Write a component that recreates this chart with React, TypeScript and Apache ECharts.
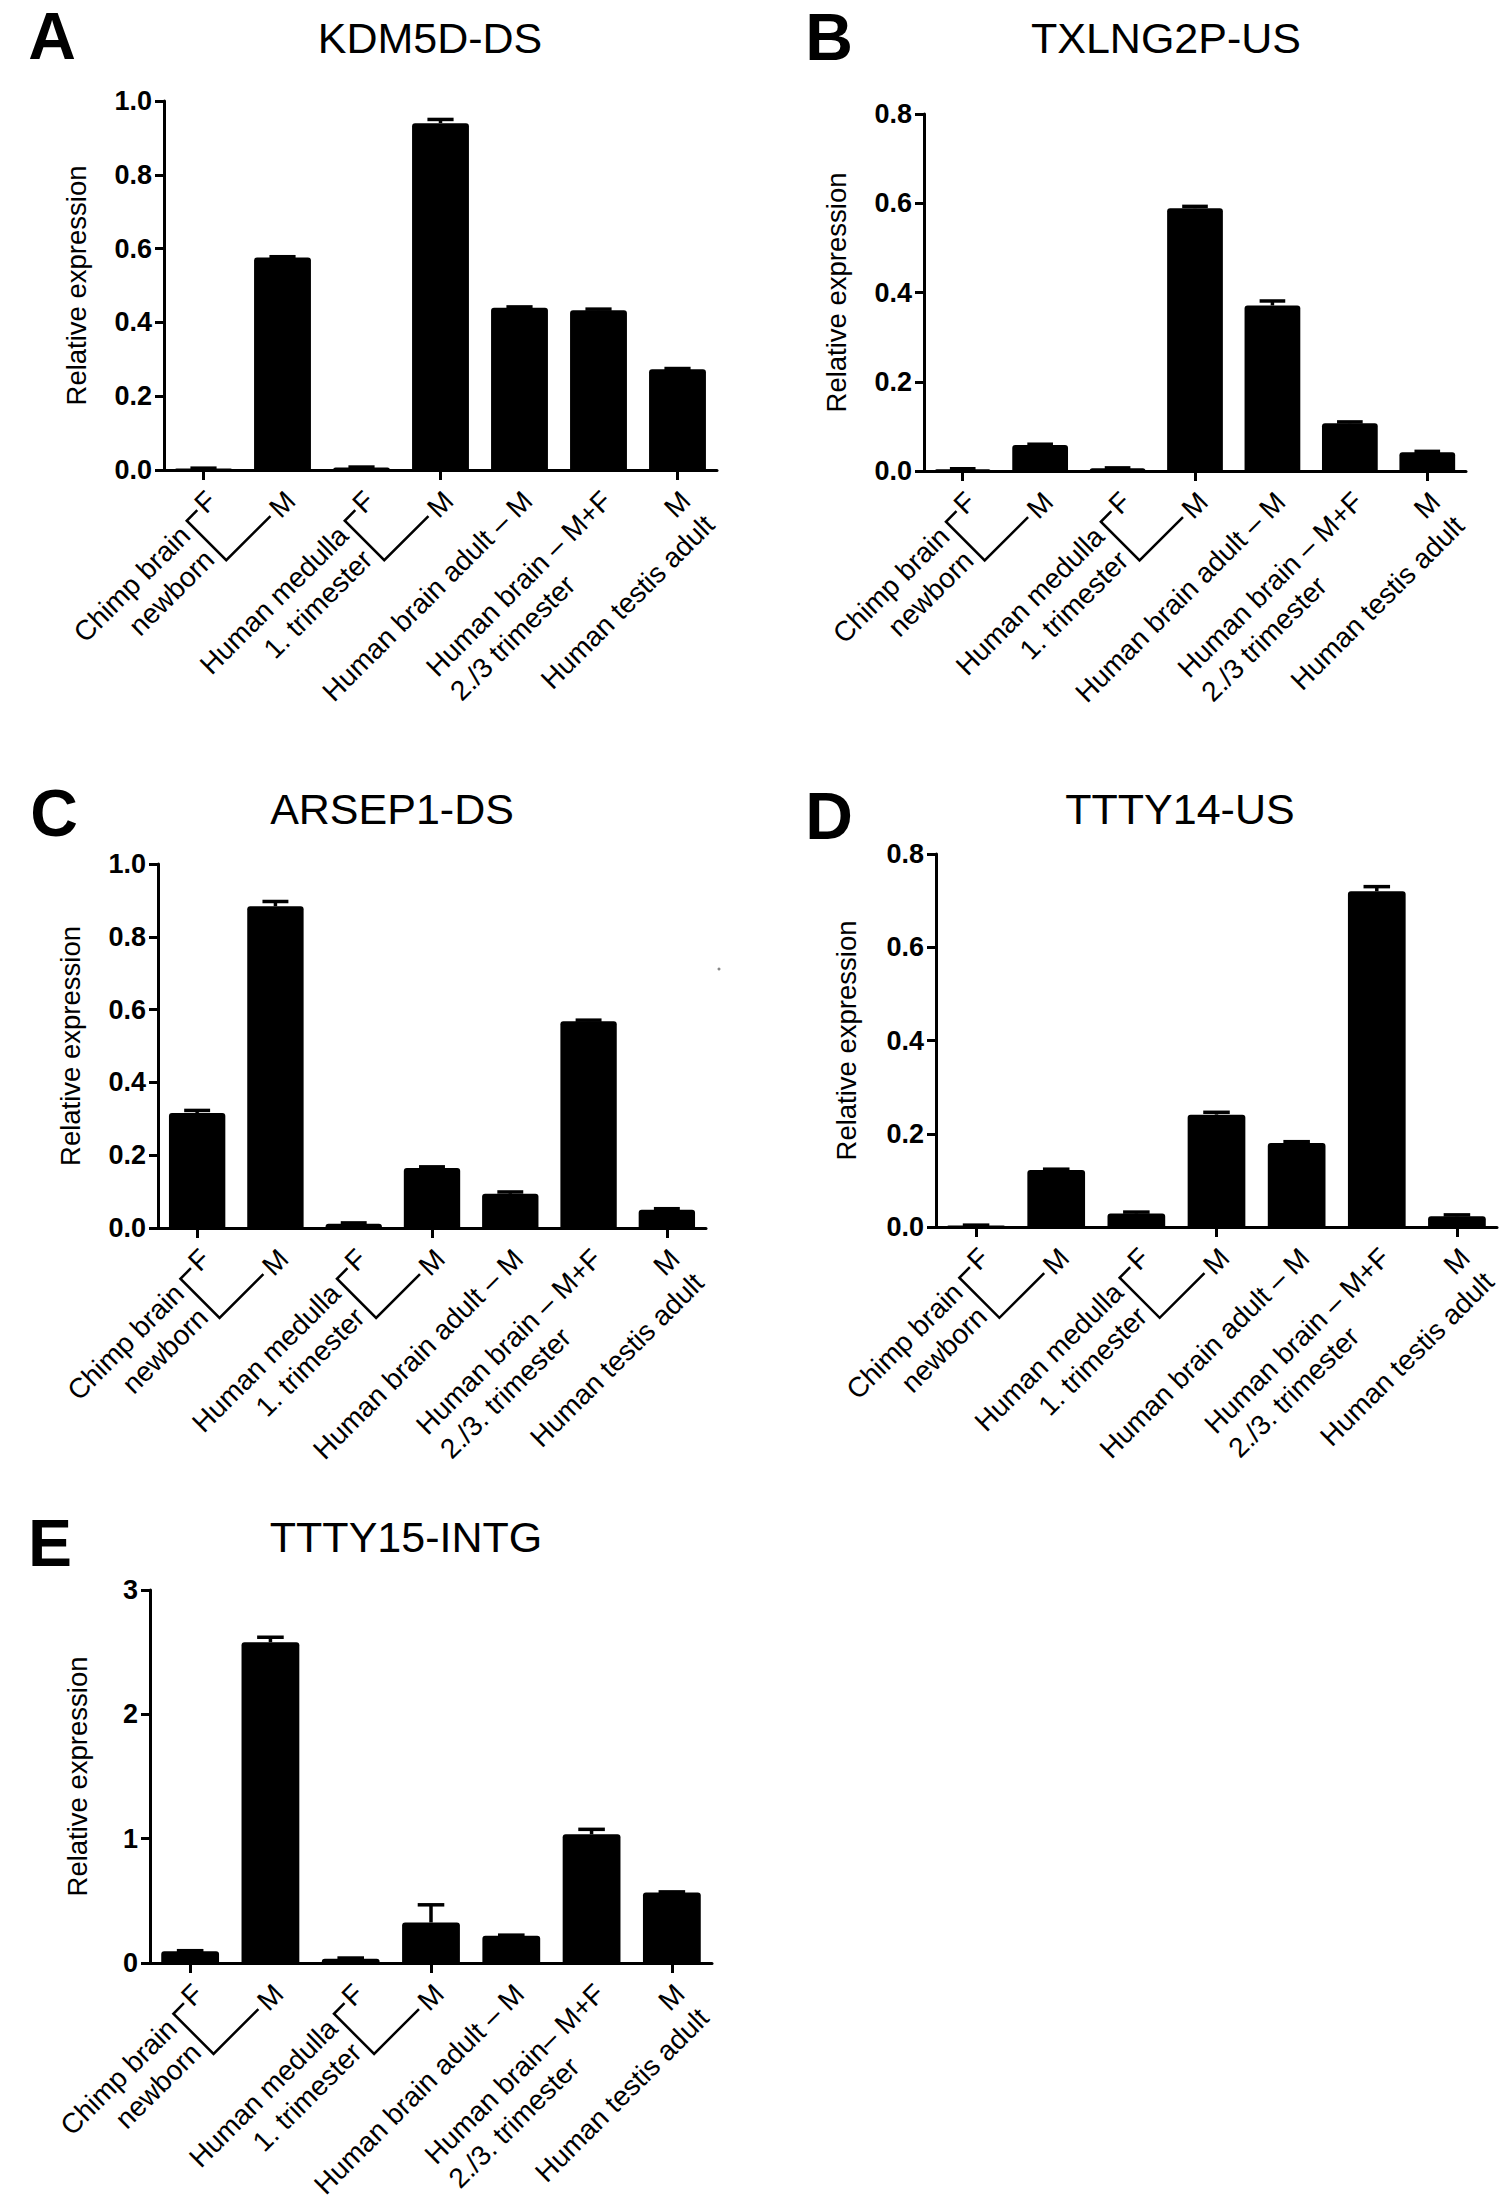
import React, { useEffect, useRef } from "react";
import * as echarts from "echarts";

// ---------- data ----------
const categoryKeys = [
  "Chimp brain newborn F",
  "Chimp brain newborn M",
  "Human medulla 1. trimester F",
  "Human medulla 1. trimester M",
  "Human brain adult M",
  "Human brain 2./3 trimester M+F",
  "Human testis adult M",
];

const panelTitles = ["KDM5D-DS", "TXLNG2P-US", "ARSEP1-DS", "TTTY14-US", "TTTY15-INTG"];
const panelLetters = ["A", "B", "C", "D", "E"];

const kdm5dMeans = [0.004, 0.576, 0.007, 0.94, 0.44, 0.433, 0.273];
const kdm5dErrors = [0.001, 0.002, 0.001, 0.01, 0.002, 0.003, 0.002];

const txlng2pMeans = [0.004, 0.058, 0.006, 0.589, 0.371, 0.107, 0.042];
const txlng2pErrors = [0.001, 0.002, 0.001, 0.004, 0.01, 0.003, 0.002];

const arsep1Means = [0.316, 0.884, 0.012, 0.165, 0.094, 0.568, 0.05];
const arsep1Errors = [0.007, 0.013, 0.002, 0.003, 0.005, 0.003, 0.003];

const ttty14Means = [0.003, 0.122, 0.029, 0.241, 0.18, 0.72, 0.023];
const ttty14Errors = [0.001, 0.002, 0.003, 0.005, 0.003, 0.01, 0.003];

const ttty15Means = [0.094, 2.58, 0.035, 0.326, 0.219, 1.035, 0.567];
const ttty15Errors = [0.005, 0.04, 0.005, 0.142, 0.005, 0.04, 0.005];

const allMeans = [kdm5dMeans, txlng2pMeans, arsep1Means, ttty14Means, ttty15Means];
const allErrors = [kdm5dErrors, txlng2pErrors, arsep1Errors, ttty14Errors, ttty15Errors];

const yMaxes = [1.0, 0.8, 1.0, 0.8, 3];
const yIntervals = [0.2, 0.2, 0.2, 0.2, 1];
const yDecimals = [1, 1, 1, 1, 0];

// tick labels
const singleTickLabels = ["F", "M", "F", "M", "Human brain adult – M"];
const mixedBrainLines = [
  "Human brain – M+F",
  "Human brain – M+F",
  "Human brain – M+F",
  "Human brain – M+F",
  "Human brain– M+F",
];
const trimesterLines = [
  "2./3 trimester",
  "2./3 trimester",
  "2./3. trimester",
  "2./3. trimester",
  "2./3. trimester",
];
const testisLines = ["M", "Human testis adult"];
const groupLabels = [
  { from: 0, to: 1, lines: ["Chimp brain", "newborn"] },
  { from: 2, to: 3, lines: ["Human medulla", "1. trimester"] },
];
const yAxisName = "Relative expression";

// ---------- layout (positions / sizes) ----------
const layout = [
  { left: 164, top: 101, width: 553, height: 369, titleX: 430, titleY: 38, letterX: 52, letterY: 36, nameGap: 88 },
  { left: 924, top: 114, width: 542, height: 357, titleX: 1166, titleY: 38, letterX: 829, letterY: 37, nameGap: 88 },
  { left: 158, top: 864, width: 548, height: 364, titleX: 392, titleY: 809, letterX: 54, letterY: 813, nameGap: 88 },
  { left: 936, top: 854, width: 561, height: 373, titleX: 1180, titleY: 809, letterX: 829, letterY: 816, nameGap: 90 },
  { left: 150, top: 1590, width: 562, height: 373, titleX: 406, titleY: 1537, letterX: 50, letterY: 1543, nameGap: 73 },
];
const strayDot = { x: 719, y: 969 };

const FONT = '"Liberation Sans", Arial, Helvetica, sans-serif';
const LABEL_SIZE = 28;
const LINE_GAP = 34;

function buildOption() {
  const grid = layout.map((l) => ({ left: l.left, top: l.top, width: l.width, height: l.height }));
  const xAxis = layout.map((_, i) => ({
    type: "category",
    gridIndex: i,
    data: categoryKeys,
    axisLine: { show: true, lineStyle: { color: "#000", width: 3 } },
    axisTick: { show: true, alignWithLabel: true, length: 10, lineStyle: { color: "#000", width: 3 } },
    axisLabel: { show: false },
    splitLine: { show: false },
  }));
  const yAxis = layout.map((_, i) => ({
    type: "value",
    gridIndex: i,
    min: 0,
    max: yMaxes[i],
    interval: yIntervals[i],
    axisLine: { show: true, lineStyle: { color: "#000", width: 3 } },
    axisTick: { show: true, length: 9, lineStyle: { color: "#000", width: 3 } },
    axisLabel: {
      show: true,
      color: "#000",
      fontWeight: "bold",
      fontSize: 27,
      fontFamily: FONT,
      margin: 12,
      formatter: (v: number) => v.toFixed(yDecimals[i]),
    },
    splitLine: { show: false },
  }));
  const series: any[] = [];
  layout.forEach((_, i) => {
    series.push({
      type: "bar",
      xAxisIndex: i,
      yAxisIndex: i,
      data: allMeans[i],
      barWidth: "72%",
      itemStyle: { color: "#000", borderRadius: [3, 3, 0, 0] },
      silent: true,
    });
    series.push({
      type: "custom",
      xAxisIndex: i,
      yAxisIndex: i,
      z: 5,
      silent: true,
      data: allMeans[i].map((m, j) => [j, m, allErrors[i][j]]),
      renderItem: (params: any, api: any) => {
        const x = api.value(0);
        const m = api.value(1);
        const e = api.value(2);
        const base = api.coord([x, m]);
        const top = api.coord([x, m + e]);
        const band = api.size([1, 0])[0];
        const capHalf = band * 0.72 * 0.23;
        const st = { stroke: "#000", lineWidth: 3.5 };
        return {
          type: "group",
          children: [
            { type: "line", shape: { x1: base[0], y1: base[1], x2: top[0], y2: top[1] }, style: st },
            { type: "line", shape: { x1: top[0] - capHalf, y1: top[1], x2: top[0] + capHalf, y2: top[1] }, style: st },
          ],
        };
      },
    });
  });
  return {
    animation: false,
    backgroundColor: "#fff",
    textStyle: { fontFamily: FONT },
    grid,
    xAxis,
    yAxis,
    series,
  };
}

function buildGraphic(chart: any) {
  const labelFont = `${LABEL_SIZE}px ${FONT}`;
  const canvas = document.createElement("canvas");
  const ctx = canvas.getContext("2d")!;
  ctx.font = labelFont;
  const measure = (s: string) => ctx.measureText(s).width;
  const U = [Math.SQRT1_2, -Math.SQRT1_2];
  const V = [Math.SQRT1_2, Math.SQRT1_2];
  const pt = (a: number[], u: number, v: number) => [a[0] + u * U[0] + v * V[0], a[1] + u * U[1] + v * V[1]];
  const rot = Math.PI / 4;
  const txt = (p: number[], text: string, align: string, font = labelFont, rotation = rot, vAlign = "middle") => ({
    type: "text",
    x: p[0],
    y: p[1],
    rotation,
    silent: true,
    style: {
      text,
      font,
      fill: "#000",
      align,
      textAlign: align,
      verticalAlign: vAlign,
      textVerticalAlign: vAlign,
    },
  });

  const els: any[] = [];
  layout.forEach((l, i) => {
    // titles and panel letters
    els.push(txt([l.titleX, l.titleY], panelTitles[i], "center", `43px ${FONT}`, 0));
    els.push(txt([l.letterX, l.letterY], panelLetters[i], "center", `bold 66px ${FONT}`, 0));

    // y axis name
    const topPx = chart.convertToPixel({ gridIndex: i }, [0, yMaxes[i]]);
    const zeroPx = chart.convertToPixel({ gridIndex: i }, [0, 0]);
    const axisX = l.left;
    els.push(
      txt([axisX - l.nameGap, (topPx[1] + zeroPx[1]) / 2], yAxisName, "center", `27.5px ${FONT}`, Math.PI / 2)
    );

    // anchors of tick labels
    const anchors = categoryKeys.map((_, j) => {
      const p = chart.convertToPixel({ gridIndex: i }, [j, 0]);
      return [p[0] + 8, p[1] + 26];
    });

    singleTickLabels.forEach((s, j) => {
      els.push(txt(anchors[j], s, "right"));
    });
    // mixed brain (two lines, left aligned block ending at tick)
    const w1 = measure(mixedBrainLines[i]);
    els.push(txt(anchors[5], mixedBrainLines[i], "right"));
    els.push(txt(pt(anchors[5], -w1, LINE_GAP), trimesterLines[i], "left"));
    // testis
    els.push(txt(anchors[6], testisLines[0], "right"));
    els.push(txt(pt(anchors[6], 0, LINE_GAP), testisLines[1], "right"));

    // grouped labels with brackets
    groupLabels.forEach((g) => {
      const aF = anchors[g.from];
      const aM = anchors[g.to];
      const dx = aM[0] - aF[0];
      const dy = aM[1] - aF[1];
      const du = dx * U[0] + dy * U[1];
      const dv = dx * V[0] + dy * V[1];
      const wF = measure(singleTickLabels[g.from]);
      const wM = measure(singleTickLabels[g.to]);
      const pts = [pt(aF, -wF - 3, 0), pt(aF, -35, 0), pt(aF, -35, dv), pt(aF, du - wM - 5, dv)];
      els.push({
        type: "polyline",
        silent: true,
        shape: { points: pts },
        style: { stroke: "#000", lineWidth: 2.5, fill: null },
      });
      els.push(txt(pt(aF, -43, 6), g.lines[0], "right"));
      els.push(txt(pt(aF, -43, 6 + LINE_GAP), g.lines[1], "right"));
    });
  });
  els.push({
    type: "circle",
    silent: true,
    shape: { cx: strayDot.x, cy: strayDot.y, r: 1.5 },
    style: { fill: "#888" },
  });
  return els;
}

export default function App() {
  const ref = useRef<HTMLDivElement>(null);
  useEffect(() => {
    document.body.style.margin = "0";
    const el = ref.current!;
    const chart = echarts.init(el, null, { renderer: "svg" });
    chart.setOption(buildOption());
    chart.setOption({ graphic: { elements: buildGraphic(chart) } });
    return () => chart.dispose();
  }, []);
  return <div ref={ref} style={{ width: 1504, height: 2198, background: "#fff" }} />;
}
